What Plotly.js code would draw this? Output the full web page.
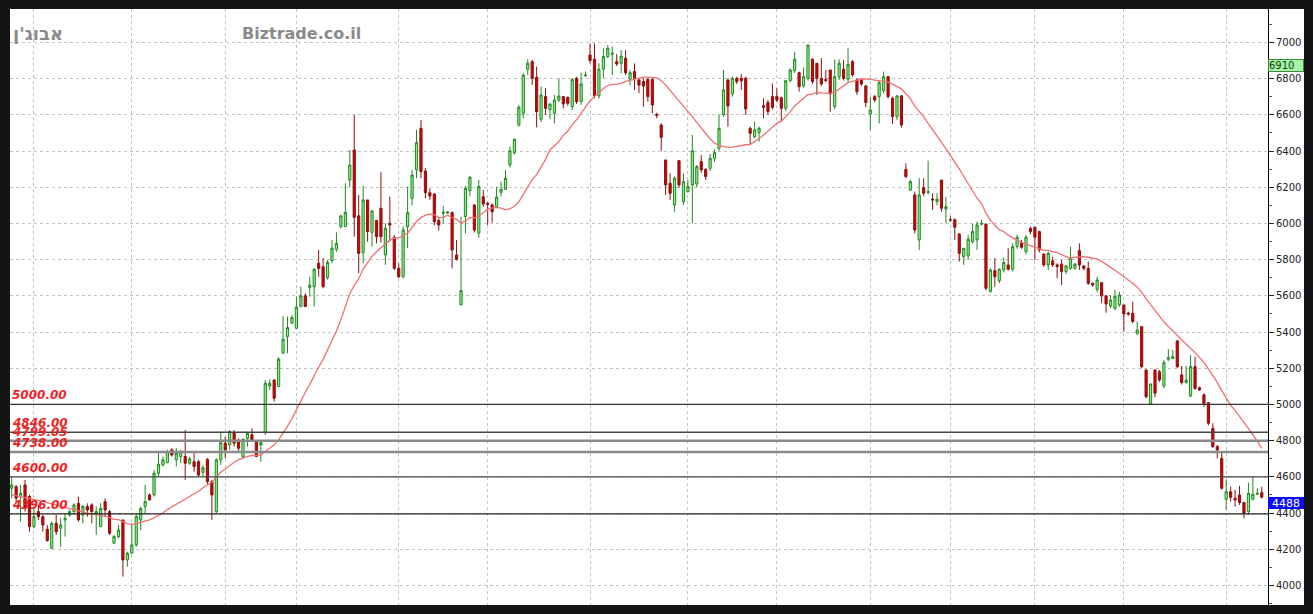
<!DOCTYPE html>
<html>
<head>
<meta charset="utf-8">
<script src="https://cdn.plot.ly/plotly-3.0.1.min.js"></script>
<style>html,body{margin:0;padding:0;background:#141414;}#chart{width:1313px;height:614px;}</style>
</head>
<body>
<div id="chart"></div>
<script>
// ---- DATA ----
const opens = [4537,4546,4491,4555,4491,4325,4408,4380,4310,4205,4343,4316,4362,4390,4408,4454,4390,4436,4445,4399,
4325,4463,4408,4233,4270,4362,4141,4178,4224,4362,4436,4500,4500,4620,4666,4679,4749,4694,4712,4712,
4675,4684,4684,4625,4697,4574,4408,4694,4786,4776,4844,4798,4712,4813,4832,4800,4776,4844,5102,5135,
5099,5283,5375,5449,5421,5541,5600,5647,5651,5780,5761,5702,5795,5857,5983,5983,6240,6406,6042,5839,
6130,5951,6016,6084,5826,6001,5923,5752,5706,5983,6139,6296,6526,6290,6170,6163,6016,6056,6058,6060,
5826,5550,6038,6182,6102,5946,6148,6111,6102,6093,6172,6189,6323,6391,6544,6609,6852,6894,6808,6576,
6701,6630,6609,6682,6701,6697,6645,6802,6673,6817,6931,6907,6705,6852,6922,6935,6894,6885,6913,6797,
6839,6793,6784,6796,6796,6603,6544,6351,6222,6102,6347,6121,6176,6213,6218,6342,6299,6305,6360,6415,
6600,6793,6716,6802,6802,6802,6526,6480,6502,6650,6668,6701,6701,6695,6636,6789,6844,6833,6760,6802,
6907,6885,6802,6796,6848,6646,6811,6852,6797,6894,6793,6793,6760,6605,6701,6701,6734,6811,6692,6590,
6705,6299,6185,6158,5909,6198,6172,6135,6121,6240,6080,6020,6020,5942,5817,5821,5900,5909,5996,5997,
5623,5739,5684,5743,5771,5747,5872,5894,5844,5973,5979,5955,5831,5771,5793,5771,5775,5734,5752,5752,
5850,5765,5752,5670,5636,5673,5600,5544,5531,5550,5550,5505,5504,5393,5430,5191,5003,5191,5181,5102,
5250,5255,5351,5163,5121,5047,5209,5093,5053,5010,4868,4767,4702,4476,4518,4482,4500,4458,4408,4476,
4504,4513];
const highs = [4601,4555,4555,4583,4500,4436,4445,4390,4334,4353,4390,4371,4399,4417,4454,4491,4445,4454,4454,4436,
4454,4482,4417,4279,4334,4362,4187,4343,4399,4436,4555,4509,4638,4740,4712,4749,4758,4758,4749,4859,
4712,4740,4694,4665,4703,4583,4703,4850,4822,4859,4859,4813,4813,4850,4868,4804,4804,5135,5139,5139,
5261,5489,5485,5494,5596,5651,5614,5706,5752,5854,5808,5798,5909,5951,6047,6222,6406,6600,6157,6209,
6130,6075,6020,6283,6001,6148,5936,5780,5983,6204,6296,6517,6572,6305,6194,6167,6029,6097,6066,6066,
5909,6038,6207,6263,6107,6240,6185,6120,6111,6204,6231,6296,6425,6470,6655,6830,6907,6903,6867,6756,
6747,6665,6710,6802,6704,6701,6802,6811,6833,6840,6995,6995,6885,6968,6986,6977,6936,6958,6958,6848,
6885,6802,6802,6802,6802,6612,6553,6351,6277,6259,6351,6277,6240,6489,6323,6379,6305,6384,6410,6600,
6848,6802,6811,6811,6826,6811,6535,6563,6535,6692,6682,6774,6747,6701,6793,6857,6949,6839,6863,6986,
6913,6885,6913,6848,6848,6907,6907,6903,6968,6903,6802,6802,6765,6701,6710,6793,6839,6815,6701,6710,
6710,6332,6240,6176,6250,6250,6347,6167,6167,6240,6148,6040,6029,5946,5863,5937,5997,6010,6020,5997,
5752,5808,5752,5813,5863,5890,5937,5909,5937,5983,5983,5960,5835,5844,5817,5780,5798,5771,5872,5780,
5890,5771,5789,5673,5706,5673,5605,5605,5633,5623,5550,5513,5568,5458,5430,5191,5117,5191,5191,5246,
5305,5301,5356,5213,5213,5273,5264,5098,5062,5010,4896,4776,4739,4583,4546,4528,4550,4463,4568,4601,
4537,4546];
const lows = [4482,4454,4353,4408,4297,4316,4362,4297,4242,4205,4279,4214,4270,4380,4390,4353,4343,4380,4343,4279,
4325,4380,4279,4233,4260,4049,4104,4178,4214,4306,4399,4472,4491,4601,4657,4675,4712,4657,4675,4583,
4666,4629,4601,4600,4560,4362,4400,4666,4703,4749,4767,4740,4703,4767,4795,4712,4684,4832,5080,5016,
5099,5283,5283,5449,5421,5541,5541,5596,5541,5706,5642,5690,5780,5844,5973,5983,6200,5927,5725,5780,
5900,5872,5890,5894,5771,5900,5743,5697,5697,5863,6100,6250,6250,6139,6130,5990,5960,6001,6052,5752,
5795,5550,5946,6150,5950,5920,6093,5992,6005,6084,6150,6185,6310,6380,6535,6580,6820,6765,6531,6560,
6600,6576,6553,6670,6636,6650,6627,6660,6655,6810,6885,6692,6690,6802,6913,6820,6870,6830,6820,6765,
6738,6720,6645,6673,6609,6581,6402,6158,6130,6065,6195,6102,6170,6001,6200,6280,6240,6290,6340,6400,
6590,6535,6700,6770,6738,6600,6434,6470,6452,6581,6600,6630,6670,6563,6620,6780,6830,6728,6750,6790,
6770,6710,6760,6780,6618,6630,6793,6790,6780,6810,6710,6760,6642,6517,6670,6553,6720,6690,6550,6572,
6530,6250,6180,5946,5854,6150,6160,6075,6100,6065,6001,6010,5909,5789,5771,5798,5890,5854,5990,5630,
5620,5651,5670,5729,5740,5735,5860,5860,5830,5940,5798,5840,5760,5743,5760,5697,5660,5720,5745,5745,
5743,5740,5660,5650,5620,5559,5507,5530,5520,5540,5402,5490,5448,5384,5200,5034,5001,5040,5125,5090,
5240,5250,5200,5110,5115,5040,5080,5075,4988,4885,4760,4702,4530,4417,4463,4435,4445,4371,4390,4470,
4500,4480];
const closes = [4555,4482,4509,4426,4325,4380,4380,4334,4248,4343,4297,4334,4371,4408,4445,4362,4436,4417,4408,4408,
4426,4417,4288,4270,4306,4141,4178,4224,4380,4426,4463,4472,4620,4670,4694,4740,4721,4730,4740,4675,
4699,4657,4610,4650,4574,4500,4694,4789,4749,4850,4786,4758,4808,4841,4804,4712,4789,5117,5117,5034,
5250,5360,5425,5480,5537,5600,5541,5659,5747,5752,5651,5785,5863,5890,6042,6062,6323,6034,5835,6130,
5955,6069,5927,5927,5973,5992,5752,5706,5964,6060,6268,6447,6287,6170,6152,6010,5992,6062,6063,5854,
5802,5629,6194,6255,5964,6204,6108,6105,6065,6145,6189,6250,6402,6465,6642,6820,6885,6802,6618,6710,
6636,6660,6682,6704,6660,6664,6796,6673,6771,6820,6900,6705,6852,6922,6968,6940,6881,6925,6833,6833,
6802,6765,6760,6701,6655,6597,6476,6213,6167,6250,6213,6231,6204,6402,6314,6296,6259,6360,6391,6526,
6738,6649,6802,6784,6789,6633,6498,6517,6526,6642,6618,6642,6682,6636,6789,6848,6907,6756,6811,6986,
6784,6802,6771,6790,6715,6811,6885,6802,6879,6821,6728,6771,6668,6627,6682,6778,6811,6701,6590,6705,
6544,6259,6231,5964,6158,6167,6175,6130,6134,6084,6093,6019,5979,5835,5863,5913,5955,5992,6000,5642,
5743,5706,5747,5784,5747,5872,5924,5868,5924,5955,5924,5854,5771,5835,5771,5762,5734,5765,5808,5776,
5771,5752,5670,5660,5688,5600,5555,5577,5596,5605,5500,5500,5458,5411,5209,5043,5113,5062,5135,5231,
5259,5264,5209,5121,5135,5209,5089,5080,5006,4896,4767,4749,4537,4518,4487,4472,4458,4399,4509,4504,
4509,4488];
// moving average before the 20-day window is complete
const maLead = [4500,4496,4491,4487,4481,4476,4470,4463,4456,4449,4443,4437,4431,4425,4419,4412,4406,4400,4396];
const maPeriod = 20;
// month boundaries (candle index of vertical grid lines)
const monthStarts = [5,27,48,64,87,107,130,152,172,193,211,230,250,273];
const levels = [5000, 4846, 4799.05, 4738, 4600, 4396];
const levelColors = ['#333333','#444444','#8a8a8a','#8a8a8a','#444444','#222222'];
const levelWidths = [1.2, 1.5, 2.5, 2.5, 1.2, 1.2];
const lastPrice = 4488;
const topPrice = 6910;
const titleLeft = "אבוג'ן";
const titleSite = "Biztrade.co.il";

// ---- BUILD ----
const idx = closes.map((_, i) => i);
const ma = closes.map((_, i) => {
  if (i < maPeriod - 1) return maLead[i];
  let s = 0;
  for (let k = i - maPeriod + 1; k <= i; k++) s += closes[k];
  return s / maPeriod;
});

const candle = {
  type: 'candlestick', x: idx, open: opens, high: highs, low: lows, close: closes,
  increasing: {line: {color: '#1f8a1f', width: 1}, fillcolor: '#90ee90'},
  decreasing: {line: {color: '#8a1010', width: 1}, fillcolor: '#d40000'},
  whiskerwidth: 0, hoverinfo: 'skip', showlegend: false
};
const maTrace = {
  type: 'scatter', mode: 'lines', x: idx, y: ma,
  line: {color: '#f07070', width: 1.3}, hoverinfo: 'skip', showlegend: false
};

const plotW = 1313 - 10 - 45;
const plotH = 614 - 9 - 9;

const shapes = [{
  type: 'rect', xref: 'paper', yref: 'paper', x0: 1, x1: 1 + 36 / plotW, y0: 0, y1: 1,
  fillcolor: '#ffffff', line: {width: 0}, layer: 'below'
}];
const annotations = [];
levels.forEach((lv, k) => {
  shapes.push({type: 'line', xref: 'paper', x0: 0, x1: 1, yref: 'y', y0: lv, y1: lv,
    line: {color: levelColors[k], width: levelWidths[k]}, layer: 'above'});
  annotations.push({xref: 'paper', x: 0, xanchor: 'left', yref: 'y', y: lv, yanchor: 'bottom',
    showarrow: false, text: '<b><i>' + lv.toFixed(2) + '</i></b>',
    font: {family: 'DejaVu Sans', size: 12, color: '#ee2424'}});
});
annotations.push({xref: 'paper', x: 1, xanchor: 'left', yref: 'y', y: topPrice, yanchor: 'top',
  showarrow: false, text: String(topPrice), align: 'left', width: 34, height: 11, borderpad: 0,
  bgcolor: '#a6f2a6', bordercolor: '#3a8a3a', borderwidth: 1,
  font: {family: 'DejaVu Sans', size: 10, color: '#0e3a0e'}});
annotations.push({xref: 'paper', x: 1, xanchor: 'left', yref: 'y', y: lastPrice, yanchor: 'top',
  showarrow: false, text: String(lastPrice), width: 36, height: 12, borderpad: 0,
  bgcolor: '#0a0aff', borderwidth: 0,
  font: {family: 'DejaVu Sans', size: 11, color: '#ffffff'}});
annotations.push({xref: 'paper', x: (11 - 10) / plotW, xanchor: 'left', yref: 'paper', y: (605 - 33) / plotH,
  yanchor: 'middle', showarrow: false, text: '<b>' + titleLeft + '</b>',
  font: {family: 'DejaVu Sans', size: 18, color: '#8a8a8a'}});
annotations.push({xref: 'paper', x: (240 - 10) / plotW, xanchor: 'left', yref: 'paper', y: (605 - 33) / plotH,
  yanchor: 'middle', showarrow: false, text: '<b>' + titleSite + '</b>',
  font: {family: 'DejaVu Sans', size: 16, color: '#8a8a8a'}});

const layout = {
  width: 1313, height: 614,
  margin: {l: 10, r: 45, t: 9, b: 9, pad: 0},
  paper_bgcolor: '#141414', plot_bgcolor: '#ffffff',
  showlegend: false,
  xaxis: {
    range: [-0.38, 282.4], tickvals: monthStarts, showticklabels: false, ticks: '',
    showgrid: true, gridcolor: '#c2c2c2', griddash: 'dot', gridwidth: 1,
    zeroline: false, showline: false, rangeslider: {visible: false}, fixedrange: true
  },
  yaxis: {
    side: 'right', range: [3892, 7185], tick0: 4000, dtick: 200,
    ticks: 'outside', ticklen: 5, tickcolor: '#222', tickwidth: 1,
    showline: true, linecolor: '#000', linewidth: 1,
    showgrid: true, gridcolor: '#c2c2c2', griddash: 'dot', gridwidth: 1,
    zeroline: false, tickfont: {family: 'DejaVu Sans', size: 10, color: '#222'},
    minor: {dtick: 100, tick0: 4000, ticks: 'outside', ticklen: 3, tickcolor: '#555', showgrid: false},
    fixedrange: true
  },
  shapes: shapes,
  annotations: annotations
};

Plotly.newPlot('chart', [candle, maTrace], layout, {displayModeBar: false, staticPlot: true});
</script>
</body>
</html>
